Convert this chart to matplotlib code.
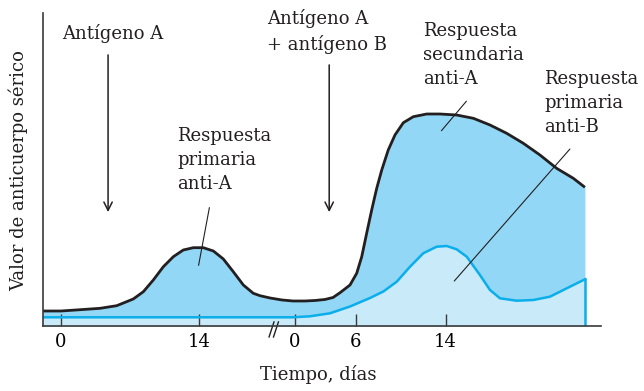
import numpy as np
import matplotlib
matplotlib.use('Agg')
import matplotlib.pyplot as plt

plt.rcParams['font.family'] = 'DejaVu Serif'

# Total serum antibody (anti-A + anti-B)
t_total = [-1.83, 0.0, 2.23, 3.96, 5.65, 7.33, 8.35, 9.36, 10.38, 11.39, 12.40, 13.42,
           14.43, 15.45, 16.46, 17.47, 18.49, 19.50, 20.18, 21.20, 22.41, 23.53, 24.75,
           25.76, 26.77, 27.59, 28.30, 29.31, 29.99, 30.50, 31.00, 31.51, 32.02, 32.53,
           33.19, 33.87, 34.72, 35.73, 37.09, 38.44, 40.13, 41.82, 43.51, 45.20, 46.89,
           48.58, 50.27, 51.96, 53.14]
v_total = [4.79, 4.79, 5.27, 5.65, 6.49, 8.63, 10.96, 14.70, 18.95, 22.14, 24.28, 25.02,
           25.02, 23.96, 21.41, 17.35, 13.10, 10.45, 9.68, 8.95, 8.31, 7.99, 7.99,
           8.15, 8.47, 9.11, 10.64, 13.10, 16.84, 22.14, 29.62, 37.06, 43.99, 49.84,
           56.23, 61.02, 64.95, 66.87, 67.73, 67.73, 67.41, 66.36, 64.22, 61.57, 58.37,
           54.63, 50.38, 47.19, 44.31]

# Primary anti-B response
t_antiB = [-1.83, 23.53, 25.25, 27.28, 29.31, 31.34, 32.69, 34.05, 35.40, 36.74, 38.10,
           39.12, 40.13, 41.15, 42.49, 43.51, 44.52, 46.22, 47.90, 49.59, 51.29, 53.14]
v_antiB = [2.78, 2.78, 3.10, 4.06, 6.23, 8.95, 11.02, 14.15, 18.95, 23.23, 25.34,
           25.56, 24.50, 22.14, 16.29, 11.50, 8.85, 8.08, 8.31, 9.36, 12.04, 14.92]

tick_pos = [0, 14, 23.7, 29.9, 39.0]
tick_lab = ['0', '14', '0', '6', '14']
break_at = 21.6

dark = '#231f20'
mid_fill = '#92d7f5'
pale_fill = '#c8eaf9'
cyan = '#0aaeea'

fig = plt.figure(figsize=(6.44, 3.91), dpi=100)
ax = fig.add_axes([43/644, 1-326/391, (601-43)/644, (326-13)/391])

ax.fill_between(t_total, 0, v_total, color=mid_fill, lw=0)
ax.fill_between(t_antiB, 0, v_antiB, color=pale_fill, lw=0)
ax.plot(t_antiB, v_antiB, color=cyan, lw=1.8, solid_joinstyle='round')
ax.plot([t_antiB[-1], t_antiB[-1]], [v_antiB[-1], 0], color=cyan, lw=1.8)
ax.plot(t_total, v_total, color=dark, lw=2.0, solid_joinstyle='round',
        solid_capstyle='butt')

ax.set_xlim(-1.83, 54.77)
ax.set_ylim(0, 100)
for s in ['top', 'right']:
    ax.spines[s].set_visible(False)
for s in ['left', 'bottom']:
    ax.spines[s].set_color('#3a3a3a')
    ax.spines[s].set_linewidth(1.2)
ax.set_yticks([])
ax.set_xticks(tick_pos)
ax.set_xticklabels(tick_lab)
ax.tick_params(axis='x', direction='in', length=8.6, width=1, color='#3a3a3a',
               pad=5, labelsize=13)

# axis break marks
for dx in (0, 0.45):
    ax.plot([break_at - 0.5 + dx, break_at + dx], [-3.5, 1.3], color=dark, lw=1,
            clip_on=False)

txt = dict(fontsize=13, color=dark, linespacing=1.45)
arrow = dict(arrowstyle='->,head_length=0.6,head_width=0.3', color=dark, lw=1.1)
thin = dict(arrowstyle='-', color=dark, lw=0.8)

ax.text(5.27, 93.6, 'Antígeno A', ha='center', va='center', **txt)
ax.annotate('', xy=(4.77, 35.5), xytext=(4.77, 87.5), arrowprops=arrow)

ax.text(20.9, 94.2, 'Antígeno A\n+ antígeno B', ha='left', va='center', **txt)
ax.annotate('', xy=(27.2, 35.5), xytext=(27.2, 84.3), arrowprops=arrow)

ax.text(11.76, 53.0, 'Respuesta\nprimaria\nanti-A', ha='left', va='center', **txt)
ax.annotate('', xy=(13.9, 18.5), xytext=(15.1, 38.7), arrowprops=thin)

ax.text(36.7, 86.6, 'Respuesta\nsecundaria\nanti-A', ha='left', va='center', **txt)
ax.annotate('', xy=(38.4, 61.7), xytext=(41.3, 72.5), arrowprops=thin)

ax.text(49.0, 71.2, 'Respuesta\nprimaria\nanti-B', ha='left', va='center', **txt)
ax.annotate('', xy=(39.7, 13.7), xytext=(51.8, 57.2), arrowprops=thin)

fig.text(318/644, 1-375/391, 'Tiempo, días', ha='center', va='center', fontsize=13,
         color=dark)
fig.text(18/644, 1-171/391, 'Valor de anticuerpo sérico', ha='center', va='center',
         rotation=90, fontsize=13, color=dark)

fig.savefig('out.png', dpi=100)
